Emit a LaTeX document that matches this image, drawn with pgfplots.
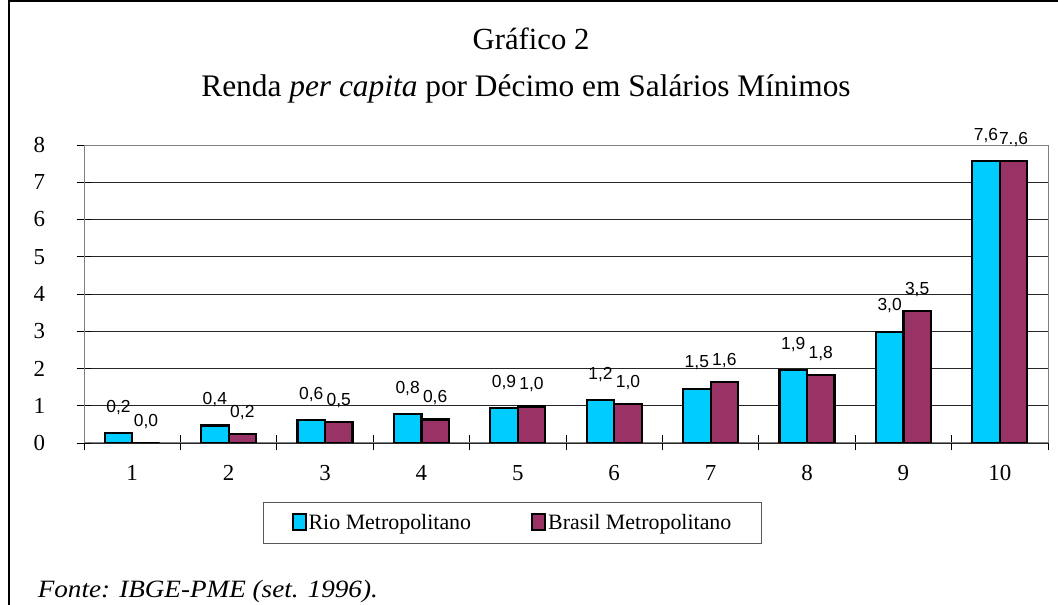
\documentclass[border=0pt]{standalone}
\usepackage{pgfplots}
\usepackage{pgfplotstable}
\pgfplotsset{compat=1.18}
\usepackage{fontspec}
\setmainfont{Liberation Serif}
\newfontfamily\arial{Liberation Sans}
\definecolor{rio}{HTML}{00CCFF}
\definecolor{bra}{HTML}{993366}
\pgfplotsset{sq legend/.style={legend image code/.code={\draw[##1,draw=black,line width=2bp] (0bp,-7bp) rectangle (13bp,9bp);}}}
\pgfplotstableread{
x rio riolab bra bralab
1 0.26 0,2 0.00 0,0
2 0.47 0,4 0.25 0,2
3 0.61 0,6 0.56 0,5
4 0.77 0,8 0.63 0,6
5 0.93 0,9 0.98 1,0
6 1.15 1,2 1.04 1,0
7 1.46 1,5 1.64 1,6
8 1.96 1,9 1.83 1,8
9 2.99 3,0 3.54 3,5
10 7.57 7,6 7.57 7.,6
}\datatable
\begin{document}
\begin{tikzpicture}
\useasboundingbox (0,0) rectangle (1058bp,605bp);
\draw[line width=1.6bp] (9bp,-20bp) |- (1080bp,604bp);
\node[font=\fontsize{30.8}{34}\selectfont] at (531bp,566bp) {Gráfico 2};
\node[font=\fontsize{31.5}{34}\selectfont] at (526bp,516bp) {Renda \textit{per capita} por Décimo em Salários Mínimos};
\node[font=\fontsize{25}{28}\selectfont\itshape, anchor=west, xscale=1.09] at (34bp,13bp) {Fonte: IBGE-PME (set. 1996).};
\begin{axis}[
  at={(84bp,162bp)}, anchor=south west,
  scale only axis, width=964bp, height=298bp,
  ybar=0pt, bar width=27.5bp, sq legend,
  xmin=0.5, xmax=10.5, ymin=0, ymax=8,
  major tick length=15bp, tick align=center,
  xtick pos=bottom, ytick pos=left,
  xtick={0.5,1.5,...,10.5}, xticklabels={},
  x tick style={draw=black, line width=0.8bp},
  extra x ticks={1,...,10}, extra x tick labels={1,2,3,4,5,6,7,8,9,10},
  extra x tick style={grid=none, x tick style={draw=none}},
  ytick={0,...,8},
  y tick style={draw=black, line width=0.8bp},
  ymajorgrids, major grid style={draw=black!85, line width=0.7bp},
  axis line style={draw=gray, line width=1bp},
  /pgf/number format/assume math mode=true,
  tick label style={font=\fontsize{23}{25}\selectfont},
  xticklabel style={yshift=-11bp},
  yticklabel style={xshift=-28bp},
  nodes near coords, point meta=explicit symbolic,
  every node near coord/.append style={font=\arial\fontsize{17.5}{19}\selectfont, anchor=south},
  legend columns=2,
  legend style={at={(0.4445,-0.267)}, anchor=center, draw=gray!70!black, line width=0.8bp,
    font=\fontsize{22}{24}\selectfont, inner xsep=28bp, inner ysep=10bp,
    /tikz/every even column/.append style={column sep=58bp}},
]
\addplot[fill=rio, draw=black, line width=2.2bp,
  every node near coord/.append style={yshift=14bp}]
  table[x=x, y=rio, meta=riolab] {\datatable};
\addlegendentry{Rio Metropolitano}
\addplot[fill=bra, draw=black, line width=2.2bp,
  every node near coord/.append style={yshift=10bp}]
  table[x=x, y=bra, meta=bralab] {\datatable};
\addlegendentry{Brasil Metropolitano}
\end{axis}
\end{tikzpicture}
\end{document}
